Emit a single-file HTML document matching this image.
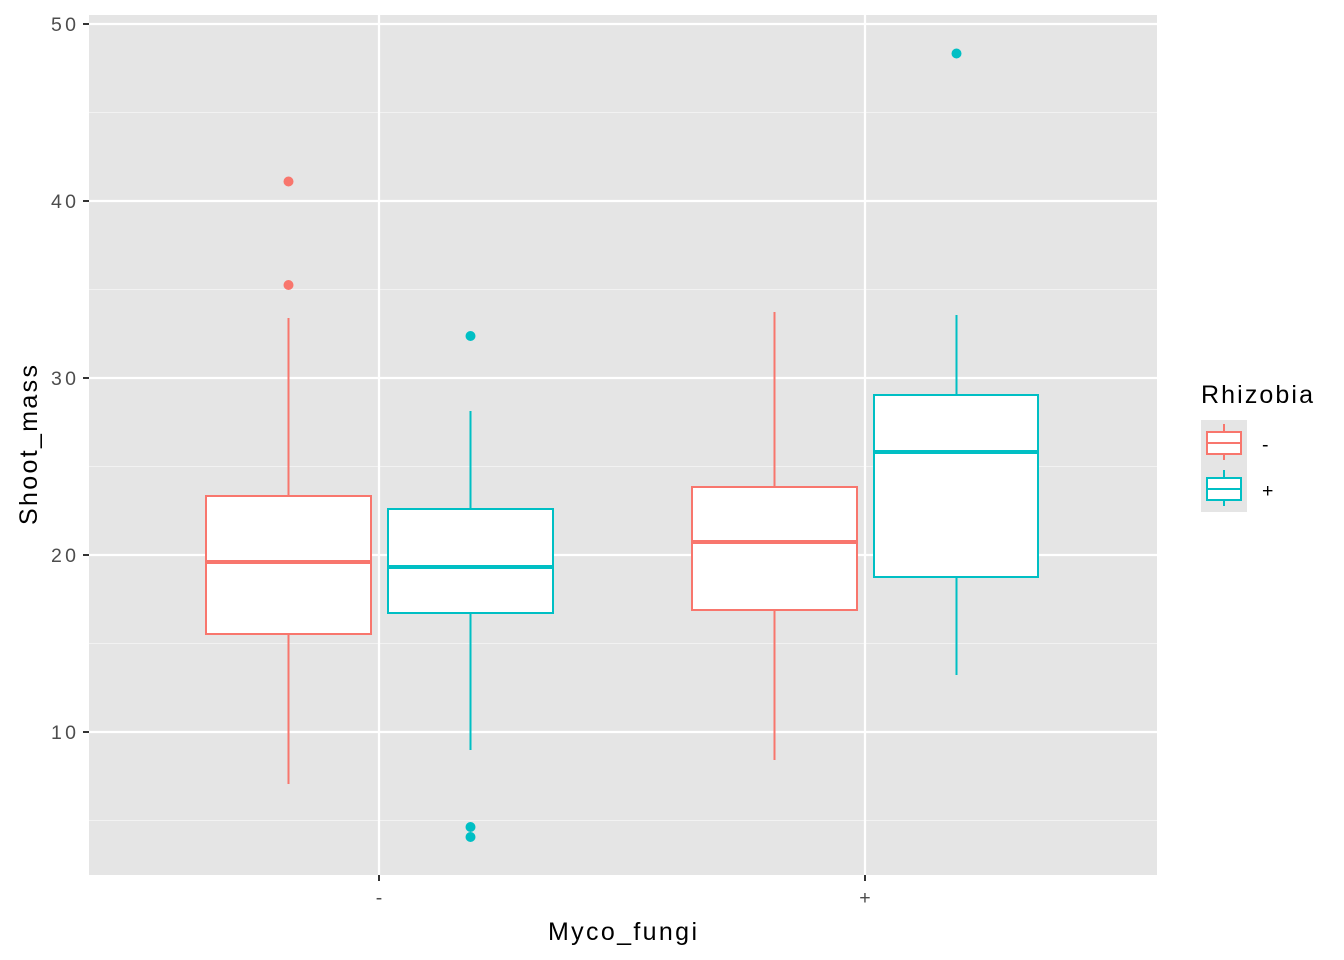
<!DOCTYPE html>
<html><head><style>body{margin:0;background:#fff}svg{display:block}text{font-family:"Liberation Sans",Arial,sans-serif}</style></head>
<body>
<svg width="1344" height="960" viewBox="0 0 1344 960">
<rect x="89" y="15" width="1068" height="860" fill="#e5e5e5"/>
<g stroke="#f2f2f2" stroke-width="1.1">
<line x1="89" x2="1157" y1="112.5" y2="112.5"/><line x1="89" x2="1157" y1="289.5" y2="289.5"/>
<line x1="89" x2="1157" y1="466.5" y2="466.5"/><line x1="89" x2="1157" y1="643.5" y2="643.5"/>
<line x1="89" x2="1157" y1="820.5" y2="820.5"/>
</g>
<g stroke="#fff" stroke-width="2.2">
<line x1="89" x2="1157" y1="24" y2="24"/><line x1="89" x2="1157" y1="201" y2="201"/>
<line x1="89" x2="1157" y1="378" y2="378"/><line x1="89" x2="1157" y1="555" y2="555"/>
<line x1="89" x2="1157" y1="732" y2="732"/>
<line x1="379" x2="379" y1="15" y2="875"/><line x1="865" x2="865" y1="15" y2="875"/>
</g>
<g stroke-width="2" fill="#fff">
<g stroke="#f8766d">
<line x1="288.5" x2="288.5" y1="318" y2="496"/><line x1="288.5" x2="288.5" y1="634" y2="784"/>
<rect x="206" y="496" width="165" height="138"/><line x1="206" x2="371" y1="562" y2="562" stroke-width="4"/>
<line x1="774.5" x2="774.5" y1="312" y2="487"/><line x1="774.5" x2="774.5" y1="610" y2="760"/>
<rect x="692" y="487" width="165" height="123"/><line x1="692" x2="857" y1="542" y2="542" stroke-width="4"/>
</g>
<g stroke="#00bfc4">
<line x1="470.5" x2="470.5" y1="411" y2="509"/><line x1="470.5" x2="470.5" y1="613" y2="750"/>
<rect x="388" y="509" width="165" height="104"/><line x1="388" x2="553" y1="567" y2="567" stroke-width="4"/>
<line x1="956.5" x2="956.5" y1="315" y2="395"/><line x1="956.5" x2="956.5" y1="577" y2="675"/>
<rect x="874" y="395" width="164" height="182"/><line x1="874" x2="1038" y1="452" y2="452" stroke-width="4"/>
</g>
</g>
<g fill="#f8766d"><circle cx="288.5" cy="181.5" r="5"/><circle cx="288.5" cy="285" r="5"/></g>
<g fill="#00bfc4"><circle cx="470.5" cy="336" r="5"/><circle cx="470.5" cy="827" r="5"/><circle cx="470.5" cy="837" r="5"/><circle cx="956.5" cy="53.5" r="5"/></g>
<g stroke="#333" stroke-width="2"><line x1="83" x2="89" y1="24" y2="24"/><line x1="83" x2="89" y1="201" y2="201"/><line x1="83" x2="89" y1="378" y2="378"/><line x1="83" x2="89" y1="555" y2="555"/><line x1="83" x2="89" y1="732" y2="732"/>
<line x1="379" x2="379" y1="875" y2="881"/><line x1="865" x2="865" y1="875" y2="881"/></g>
<g font-size="19.5" fill="#4d4d4d" text-anchor="end"><text x="76" y="31" textLength="25">50</text><text x="76" y="208" textLength="25">40</text><text x="76" y="385" textLength="25">30</text><text x="76" y="562" textLength="25">20</text><text x="76" y="739" textLength="25">10</text></g>
<g font-size="19.5" fill="#4d4d4d" text-anchor="middle"><text x="379" y="904">-</text><text x="865" y="904">+</text></g>
<text x="548" y="940" font-size="25" textLength="149">Myco_fungi</text>
<text transform="translate(37,525) rotate(-90)" font-size="25" textLength="160">Shoot_mass</text>
<text x="1201" y="403" font-size="25" textLength="112">Rhizobia</text>
<rect x="1201" y="420" width="46" height="92" fill="#e5e5e5"/>
<g stroke-width="2" fill="#fff">
<g stroke="#f8766d"><line x1="1224" x2="1224" y1="424" y2="460"/><rect x="1207" y="432" width="34" height="22"/><line x1="1207" x2="1241" y1="443" y2="443"/></g>
<g stroke="#00bfc4"><line x1="1224" x2="1224" y1="470" y2="506"/><rect x="1207" y="478" width="34" height="22"/><line x1="1207" x2="1241" y1="489" y2="489"/></g>
</g>
<g font-size="19.5" fill="#000"><text x="1262" y="451">-</text><text x="1262" y="497">+</text></g>
</svg>
</body></html>
